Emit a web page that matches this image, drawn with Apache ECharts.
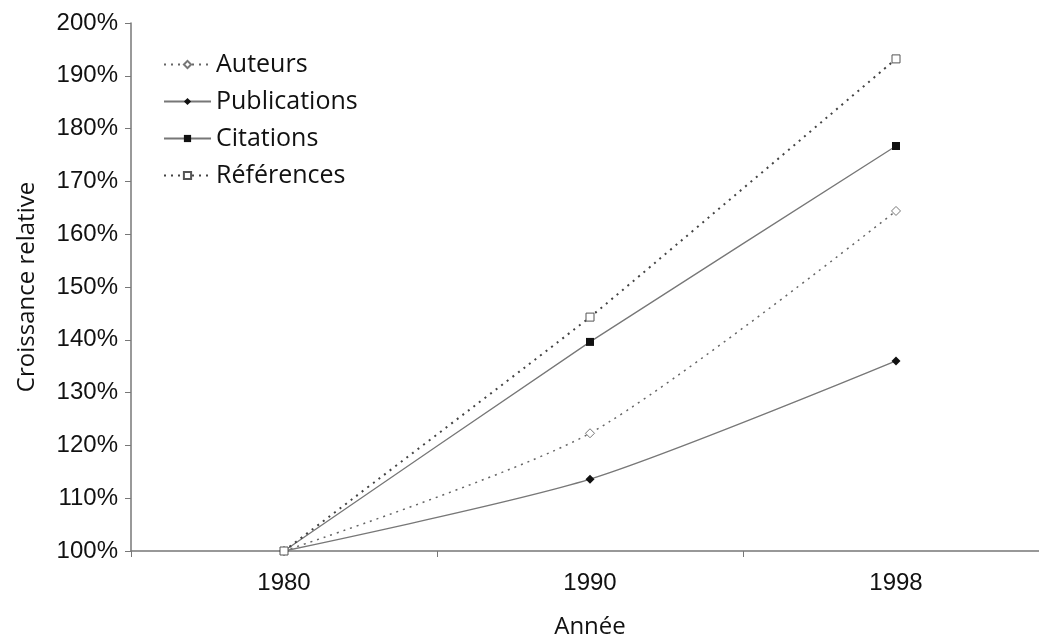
<!DOCTYPE html>
<html>
<head>
<meta charset="utf-8">
<script src="https://cdn.jsdelivr.net/npm/echarts@6/dist/echarts.min.js"></script>
<style>
  html, body { margin: 0; padding: 0; background: #fff; }
  #chart { width: 1039px; height: 639px; }
</style>
</head>
<body>
<div id="chart"></div>
<script>
var years = ['1980', '1990', '1998'];
var auteurs = [100, 122.3, 164.4];
var publications = [100, 113.6, 136.0];
var citations = [100, 139.6, 176.7];
var references = [100, 144.3, 193.2];

var chart = echarts.init(document.getElementById('chart'));

var labelFont = 'Liberation Sans';
var nameFont = 'Open Sans';

var option = {
  animation: false,
  backgroundColor: '#fff',
  legend: {
    orient: 'vertical',
    left: 158,
    top: 47,
    itemWidth: 47,
    itemHeight: 9,
    itemGap: 12,
    textStyle: { fontFamily: nameFont, fontSize: 25, color: '#111' },
    data: ['Auteurs', 'Publications', 'Citations', 'Références']
  },
  grid: {
    left: 131,
    top: 23,
    bottom: 88,
    right: -10,
    outerBoundsMode: 'none'
  },
  xAxis: {
    type: 'category',
    data: years,
    boundaryGap: true,
    name: 'Année',
    nameLocation: 'middle',
    nameGap: 64,
    nameTextStyle: { fontFamily: nameFont, fontSize: 24, color: '#111' },
    axisLine: { lineStyle: { color: '#777', width: 1.5 } },
    axisTick: { show: true, length: 6, lineStyle: { color: '#777' } },
    axisLabel: { fontFamily: labelFont, fontSize: 24, color: '#111', margin: 20 }
  },
  yAxis: {
    type: 'value',
    min: 100,
    max: 200,
    interval: 10,
    name: 'Croissance relative',
    nameLocation: 'middle',
    nameGap: 92,
    nameTextStyle: { fontFamily: nameFont, fontSize: 24, color: '#111' },
    axisLine: { show: true, lineStyle: { color: '#777', width: 1.5 } },
    axisTick: { show: true, length: 6, lineStyle: { color: '#777' } },
    splitLine: { show: false },
    axisLabel: {
      fontFamily: labelFont, fontSize: 24, color: '#111', margin: 13,
      formatter: '{value}%'
    }
  },
  series: [{
    name: 'Auteurs',
    type: 'line',
    smooth: 0.25,
    data: auteurs,
    symbol: 'diamond',
    symbolSize: 9,
    itemStyle: { color: '#fff', borderColor: '#777', borderWidth: 1 },
    lineStyle: { color: '#666', width: 1.5, type: [2, 5] }
  }, {
    name: 'Publications',
    type: 'line',
    smooth: 0.25,
    data: publications,
    symbol: 'diamond',
    symbolSize: 9,
    itemStyle: { color: '#111', borderColor: '#111', borderWidth: 0 },
    lineStyle: { color: '#777', width: 1.3 }
  }, {
    name: 'Citations',
    type: 'line',
    smooth: 0.1,
    data: citations,
    symbol: 'rect',
    symbolSize: 8,
    itemStyle: { color: '#111', borderColor: '#111', borderWidth: 0 },
    lineStyle: { color: '#777', width: 1.3 }
  }, {
    name: 'Références',
    type: 'line',
    smooth: 0.1,
    data: references,
    symbol: 'rect',
    symbolSize: 8,
    itemStyle: { color: '#fff', borderColor: '#555', borderWidth: 1 },
    lineStyle: { color: '#444', width: 2, type: [2, 5] }
  }]
};

chart.setOption(option);
</script>
</body>
</html>
